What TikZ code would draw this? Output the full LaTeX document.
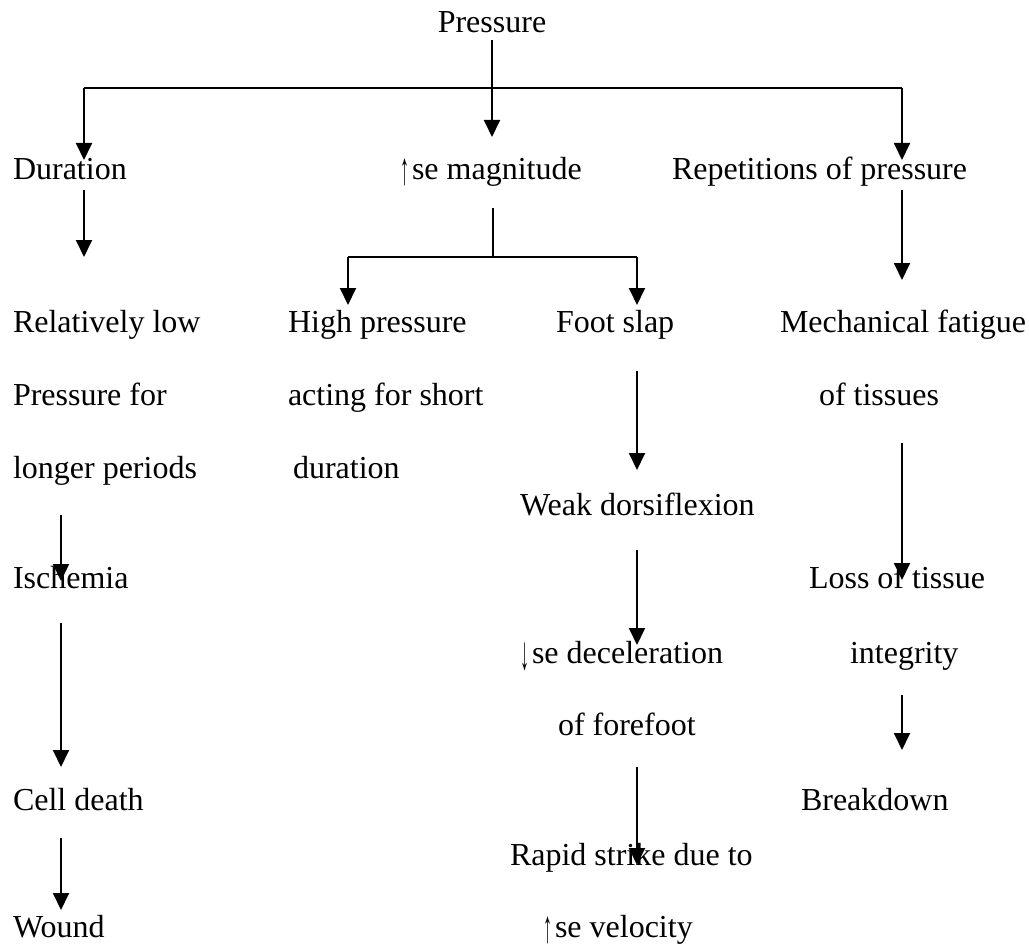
\documentclass[tikz,border=0pt]{standalone}
\usepackage{fontspec}
\setmainfont{Liberation Serif}
\usetikzlibrary{arrows.meta}
% slim arrow glyphs used in front of "se"
\newcommand{\upse}{\makebox[12pt][l]{\raisebox{-5pt}{\resizebox*{9pt}{27pt}{↑}}}}
\newcommand{\downse}{\makebox[12pt][l]{\raisebox{-6pt}{\resizebox*{9pt}{28pt}{↓}}}}
\begin{document}
\begin{tikzpicture}[x=1pt,y=-1pt,
  lbl/.style={inner sep=0pt,outer sep=0pt,anchor=base west,font=\fontsize{32}{38}\selectfont},
  link/.style={line width=1.9pt},
  thinlink/.style={line width=1.2pt},
  arr/.style={line width=1.9pt,-{Triangle[width=16pt,length=17pt]}}]
\useasboundingbox (0,0) rectangle (1029,947);

% text
\node[lbl,anchor=base] (pres) at (492,33) {Pressure};
\node[lbl] (dur)  at (13,180)  {Duration};
\node[lbl] (mag)  at (400,180) {\upse se magnitude};
\node[lbl] (rep)  at (672,180) {Repetitions of pressure};

\node[lbl] (rel1) at (13,332) {Relatively low};
\node[lbl] (rel2) at (13,405) {Pressure for};
\node[lbl] (rel3) at (13,478) {longer periods};
\node[lbl] (isch) at (13,588) {Ischemia};
\node[lbl] (cell) at (13,810) {Cell death};
\node[lbl] (wound) at (13,937) {Wound};

\node[lbl] (hi1) at (288,332) {High pressure};
\node[lbl] (hi2) at (288,405) {acting for short};
\node[lbl] (hi3) at (293,478) {duration};

\node[lbl] (foot) at (556,332) {Foot slap};
\node[lbl] (weak) at (520,515) {Weak dorsiflexion};
\node[lbl] (dec1) at (520,663) {\downse se deceleration};
\node[lbl] (dec2) at (558,735) {of forefoot};
\node[lbl] (rap1) at (510,865) {Rapid strike due to};
\node[lbl] (rap2) at (543,937) {\upse se velocity};

\node[lbl] (mech1) at (780,332) {Mechanical fatigue};
\node[lbl] (mech2) at (819,405) {of tissues};
\node[lbl] (loss1) at (809,588) {Loss of tissue};
\node[lbl] (loss2) at (850,663) {integrity};
\node[lbl] (brk)   at (801,810) {Breakdown};

% connector end points
\coordinate (presS) at (492,40);
\coordinate (magT)  at (492,137);
\coordinate (busL)  at (84,88);
\coordinate (busR)  at (902,88);
\coordinate (durT)  at (84,160);
\coordinate (repT)  at (902,160);

\coordinate (durS)  at (84,190);
\coordinate (relT)  at (84,257);
\coordinate (magS)  at (493,208);
\coordinate (magJ)  at (493,257);
\coordinate (subL)  at (348,257);
\coordinate (subR)  at (637,257);
\coordinate (hiT)   at (348,305);
\coordinate (footT) at (637,305);
\coordinate (repS)  at (902,190);
\coordinate (mechT) at (902,280);

\coordinate (footS) at (637,371);
\coordinate (weakT) at (637,470);
\coordinate (weakS) at (637,550);
\coordinate (decT)  at (637,645);
\coordinate (decS)  at (637,767);
\coordinate (rapT)  at (637,865);

\coordinate (relS)  at (61,515);
\coordinate (ischT) at (61,581);
\coordinate (ischS) at (61,623);
\coordinate (cellT) at (61,767);
\coordinate (cellS) at (61,838);
\coordinate (woundT) at (61,910);

\coordinate (mechS) at (902,443);
\coordinate (lossT) at (902,580);
\coordinate (lossS) at (902,695);
\coordinate (brkT)  at (902,750);

% top level
\draw[link] (busL) -- (busR);
\draw[arr] (presS) -- (magT);
\draw[arr] (busL) -- (durT);
\draw[arr] (busR) -- (repT);

% duration branch
\draw[arr] (durS) -- (relT);
\draw[arr] (relS) -- (ischT);
\draw[arr] (ischS) -- (cellT);
\draw[arr] (cellS) -- (woundT);

% magnitude branch
\draw[thinlink] (magS) -- (magJ);
\draw[link] (subL) -- (subR);
\draw[arr] (subL) -- (hiT);
\draw[arr] (subR) -- (footT);
\draw[arr] (footS) -- (weakT);
\draw[arr] (weakS) -- (decT);
\draw[arr] (decS) -- (rapT);

% repetitions branch
\draw[arr] (repS) -- (mechT);
\draw[arr] (mechS) -- (lossT);
\draw[arr] (lossS) -- (brkT);
\end{tikzpicture}
\end{document}
